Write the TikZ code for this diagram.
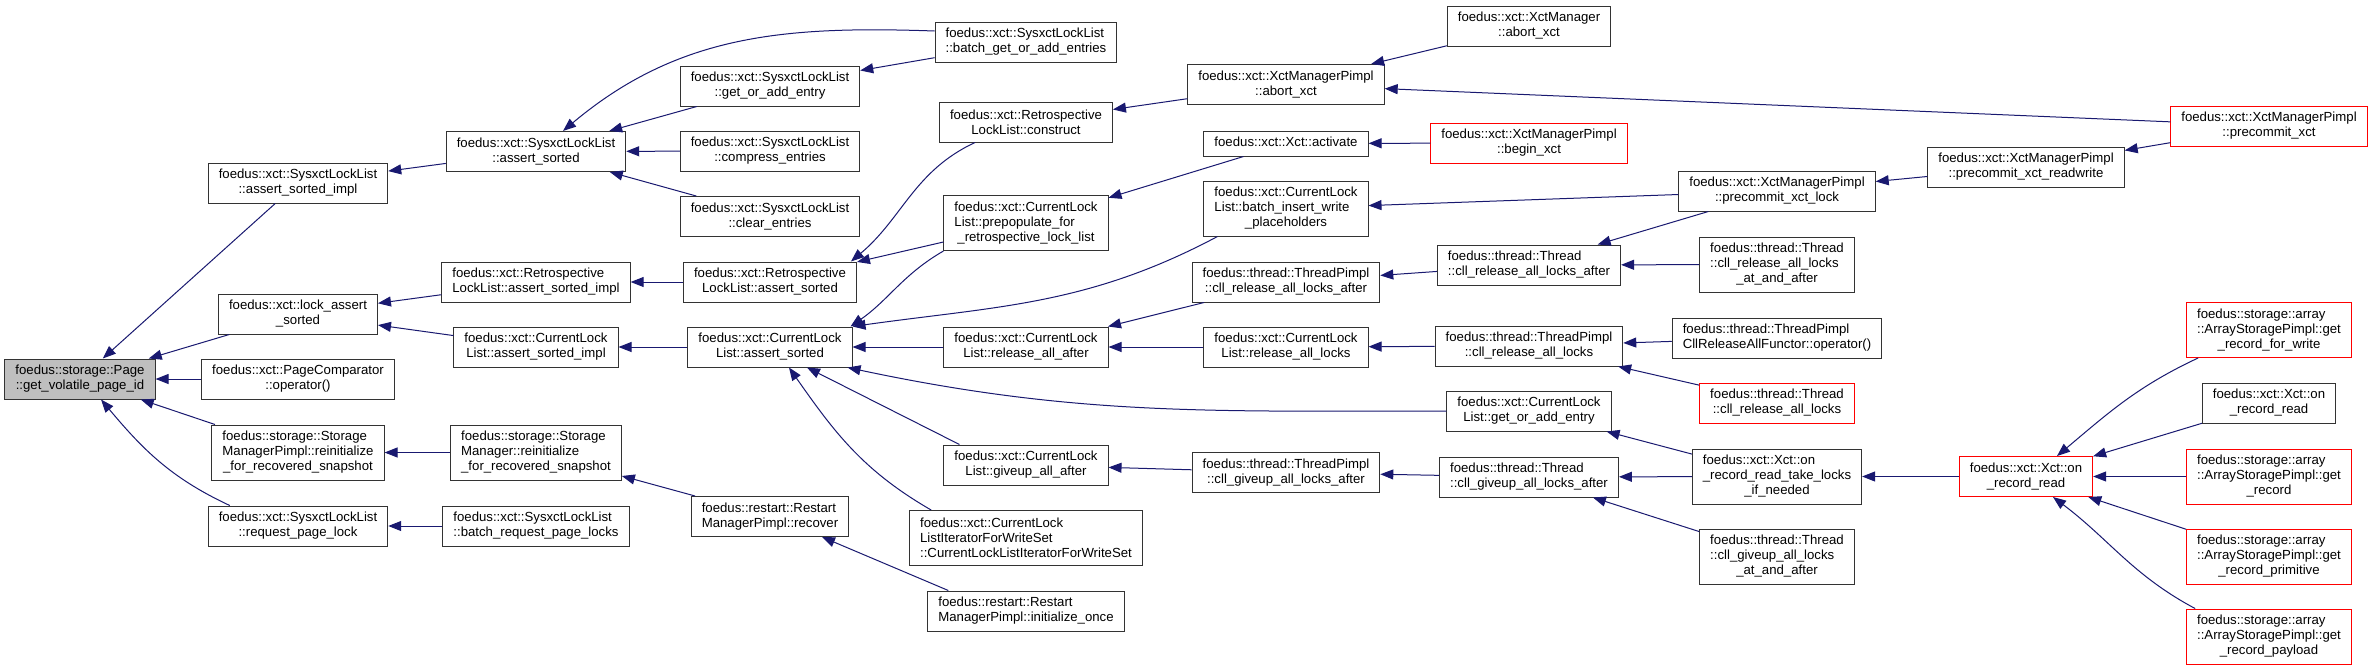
\documentclass[tikz,border=0pt]{standalone}
\usepackage{fontspec}
\setmainfont{Liberation Sans}
\usepackage{xcolor}
\usepackage{tikz}
\usetikzlibrary{arrows.meta}
\definecolor{edgeblue}{RGB}{25,25,112}
\newcommand\lastln[1]{\hfill#1\hfill\null}

\begin{document}
\begin{tikzpicture}[x=1pt, y=-1pt,
  fn/.style={rectangle, draw=black!80, line width=1pt, fill=white,
             inner xsep=10.5pt, inner ysep=0pt, minimum height=40pt,
             align=left, font={\fontsize{13.2}{15}\selectfont}},
  fnred/.style={fn, draw=red},
  fncur/.style={fn, fill=black!25},
  tall/.style={minimum height=55pt},
  flat/.style={minimum height=25pt},
  arr/.style={-{Triangle[length=13pt, width=10pt]}, line width=1pt, draw=edgeblue}
]
  \fill[white] (0,0) rectangle (2372,670);
  \useasboundingbox (0,0) rectangle (2372,670);

  % callee
  \node[fncur] (pageid) at (80,379) {foedus::storage::Page\\\lastln{::get\_volatile\_page\_id}};

  % column 1
  \node[fn]       (sllSortedImpl) at (298,183)   {foedus::xct::SysxctLockList\\\lastln{::assert\_sorted\_impl}};
  \node[fn]       (lockAssert)    at (298,314)   {foedus::xct::lock\_assert\\\lastln{\_sorted}};
  \node[fn]       (pageCmp)       at (298,379)   {foedus::xct::PageComparator\\\lastln{::operator()}};
  \node[fn, tall] (smpReinit)     at (298,452.5) {foedus::storage::Storage\\ManagerPimpl::reinitialize\\\lastln{\_for\_recovered\_snapshot}};
  \node[fn]       (sllReqLock)    at (298,526)   {foedus::xct::SysxctLockList\\\lastln{::request\_page\_lock}};

  % column 2
  \node[fn]       (sllSorted)     at (536,151.5) {foedus::xct::SysxctLockList\\\lastln{::assert\_sorted}};
  \node[fn]       (rllSortedImpl) at (536,282)   {foedus::xct::Retrospective\\\lastln{LockList::assert\_sorted\_impl}};
  \node[fn]       (cllSortedImpl) at (536,347)   {foedus::xct::CurrentLock\\\lastln{List::assert\_sorted\_impl}};
  \node[fn, tall] (smReinit)      at (536,452.5) {foedus::storage::Storage\\Manager::reinitialize\\\lastln{\_for\_recovered\_snapshot}};
  \node[fn]       (sllBatchReq)   at (536,526)   {foedus::xct::SysxctLockList\\\lastln{::batch\_request\_page\_locks}};

  % column 3
  \node[fn] (sllGetAdd)   at (770,86)    {foedus::xct::SysxctLockList\\\lastln{::get\_or\_add\_entry}};
  \node[fn] (sllCompress) at (770,151)   {foedus::xct::SysxctLockList\\\lastln{::compress\_entries}};
  \node[fn] (sllClear)    at (770,216.5) {foedus::xct::SysxctLockList\\\lastln{::clear\_entries}};
  \node[fn] (rllSorted)   at (770,282)   {foedus::xct::Retrospective\\\lastln{LockList::assert\_sorted}};
  \node[fn] (cllSorted)   at (770,347)   {foedus::xct::CurrentLock\\\lastln{List::assert\_sorted}};
  \node[fn] (rmpRecover)  at (770,516.5) {foedus::restart::Restart\\\lastln{ManagerPimpl::recover}};

  % column 4
  \node[fn]       (sllBatchGet)  at (1026,42)  {foedus::xct::SysxctLockList\\\lastln{::batch\_get\_or\_add\_entries}};
  \node[fn]       (rllConstruct) at (1026,122) {foedus::xct::Retrospective\\\lastln{LockList::construct}};
  \node[fn, tall] (cllPrepop)    at (1026,223) {foedus::xct::CurrentLock\\List::prepopulate\_for\\\lastln{\_retrospective\_lock\_list}};
  \node[fn]       (cllRelAfter)  at (1026,347) {foedus::xct::CurrentLock\\\lastln{List::release\_all\_after}};
  \node[fn]       (cllGiveAfter) at (1026,465) {foedus::xct::CurrentLock\\\lastln{List::giveup\_all\_after}};
  \node[fn, tall] (cllIter)      at (1026,538) {foedus::xct::CurrentLock\\ListIteratorForWriteSet\\\lastln{::CurrentLockListIteratorForWriteSet}};
  \node[fn]       (rmpInit)      at (1026,611) {foedus::restart::Restart\\\lastln{ManagerPimpl::initialize\_once}};

  % column 5
  \node[fn]       (xmpAbort)    at (1286,84.5)  {foedus::xct::XctManagerPimpl\\\lastln{::abort\_xct}};
  \node[fn, flat] (xctActivate) at (1286,143.5) {\strut foedus::xct::Xct::activate};
  \node[fn, tall] (cllBatchIns) at (1286,208.5) {foedus::xct::CurrentLock\\List::batch\_insert\_write\\\lastln{\_placeholders}};
  \node[fn]       (tpRelAfter)  at (1286,282)   {foedus::thread::ThreadPimpl\\\lastln{::cll\_release\_all\_locks\_after}};
  \node[fn]       (cllRelAll)   at (1286,347)   {foedus::xct::CurrentLock\\\lastln{List::release\_all\_locks}};
  \node[fn]       (tpGiveAfter) at (1286,472.5) {foedus::thread::ThreadPimpl\\\lastln{::cll\_giveup\_all\_locks\_after}};

  % column 6
  \node[fn]    (xmAbort)     at (1529,26)  {foedus::xct::XctManager\\\lastln{::abort\_xct}};
  \node[fnred] (xmpBegin)    at (1529,143) {foedus::xct::XctManagerPimpl\\\lastln{::begin\_xct}};
  \node[fn]    (thRelAfter)  at (1529,265) {foedus::thread::Thread\\\lastln{::cll\_release\_all\_locks\_after}};
  \node[fn]    (tpRelAll)    at (1529,346) {foedus::thread::ThreadPimpl\\\lastln{::cll\_release\_all\_locks}};
  \node[fn]    (cllGetAdd)   at (1529,411) {foedus::xct::CurrentLock\\\lastln{List::get\_or\_add\_entry}};
  \node[fn]    (thGiveAfter) at (1529,477) {foedus::thread::Thread\\\lastln{::cll\_giveup\_all\_locks\_after}};

  % column 7
  \node[fn]       (xmpPreLock)    at (1777,191)   {foedus::xct::XctManagerPimpl\\\lastln{::precommit\_xct\_lock}};
  \node[fn, tall] (thRelAtAfter)  at (1777,264.5) {foedus::thread::Thread\\::cll\_release\_all\_locks\\\lastln{\_at\_and\_after}};
  \node[fn]       (tpFunctor)     at (1777,338)   {foedus::thread::ThreadPimpl\\\lastln{CllReleaseAllFunctor::operator()}};
  \node[fnred]    (thRelAll)      at (1777,403)   {foedus::thread::Thread\\\lastln{::cll\_release\_all\_locks}};
  \node[fn, tall] (xctTakeLocks)  at (1777,476.5) {foedus::xct::Xct::on\\\_record\_read\_take\_locks\\\lastln{\_if\_needed}};
  \node[fn, tall] (thGiveAtAfter) at (1777,556.5) {foedus::thread::Thread\\::cll\_giveup\_all\_locks\\\lastln{\_at\_and\_after}};

  % column 8
  \node[fn]    (xmpPreRW)   at (2026,167)   {foedus::xct::XctManagerPimpl\\\lastln{::precommit\_xct\_readwrite}};
  \node[fnred] (xctOnReadR) at (2026,476.5) {foedus::xct::Xct::on\\\lastln{\_record\_read}};

  % column 9
  \node[fnred]       (xmpPrecommit) at (2269,126)   {foedus::xct::XctManagerPimpl\\\lastln{::precommit\_xct}};
  \node[fnred, tall] (aspForWrite)  at (2269,330)   {foedus::storage::array\\::ArrayStoragePimpl::get\\\lastln{\_record\_for\_write}};
  \node[fn]          (xctOnRead)    at (2269,403)   {foedus::xct::Xct::on\\\lastln{\_record\_read}};
  \node[fnred, tall] (aspGet)       at (2269,476.5) {foedus::storage::array\\::ArrayStoragePimpl::get\\\lastln{\_record}};
  \node[fnred, tall] (aspPrim)      at (2269,556.5) {foedus::storage::array\\::ArrayStoragePimpl::get\\\lastln{\_record\_primitive}};
  \node[fnred, tall] (aspPayload)   at (2269,636.5) {foedus::storage::array\\::ArrayStoragePimpl::get\\\lastln{\_record\_payload}};

  % callers -> callees
  \draw[arr] (sllSortedImpl) -- (pageid);
  \draw[arr] (lockAssert)    -- (pageid);
  \draw[arr] (pageCmp)       -- (pageid);
  \draw[arr] (smpReinit)     -- (pageid);
  \draw[arr] ([xshift=22pt]sllReqLock.north west) to[out=155, in=-50] ([xshift=21pt]pageid.south);

  \draw[arr] (sllSorted)     -- (sllSortedImpl);
  \draw[arr] (rllSortedImpl) -- (lockAssert);
  \draw[arr] (cllSortedImpl) -- (lockAssert);
  \draw[arr] (smReinit)      -- (smpReinit);
  \draw[arr] (sllBatchReq)   -- (sllReqLock);

  \draw[arr] ([yshift=11pt]sllBatchGet.west) to[out=178, in=40] ([xshift=27pt]sllSorted.north);
  \draw[arr] (sllGetAdd)   -- (sllSorted);
  \draw[arr] (sllCompress) -- (sllSorted);
  \draw[arr] (sllClear)    -- (sllSorted);
  \draw[arr] (sllBatchGet) -- (sllGetAdd);
  \draw[arr] (rllSorted)   -- (rllSortedImpl);
  \draw[arr] (cllSorted)   -- (cllSortedImpl);
  \draw[arr] (rmpRecover)  -- (smReinit);

  \draw[arr] ([xshift=-51pt]rllConstruct.south) to[out=205, in=40] ([xshift=-6pt]rllSorted.north east);
  \draw[arr] (cllPrepop) -- (rllSorted);
  \draw[arr] (cllPrepop.south west) to[out=210, in=35] ([xshift=-2pt]cllSorted.north east);
  \draw[arr] ([xshift=14pt]cllBatchIns.south west) to[out=208, in=8] (cllSorted.north east);
  \draw[arr] (cllRelAfter) -- (cllSorted);
  \draw[arr] (cllGetAdd.west) to[out=180, in=-12] ([xshift=-5pt]cllSorted.south east);
  \draw[arr] ([xshift=16pt]cllGiveAfter.north west) -- ([xshift=37pt]cllSorted.south);
  \draw[arr] ([xshift=22pt]cllIter.north west) to[out=150, in=-55] ([xshift=19pt]cllSorted.south);
  \draw[arr] ([xshift=21pt]rmpInit.north west) -- ([xshift=52pt]rmpRecover.south);

  \draw[arr] (xmpAbort)    -- (rllConstruct);
  \draw[arr] (xctActivate) -- (cllPrepop);
  \draw[arr] (tpRelAfter)  -- (cllRelAfter);
  \draw[arr] (cllRelAll)   -- (cllRelAfter);
  \draw[arr] (tpGiveAfter) -- (cllGiveAfter);

  \draw[arr] (xmAbort)      -- (xmpAbort);
  \draw[arr] (xmpPrecommit) -- (xmpAbort);
  \draw[arr] (xmpBegin)     -- (xctActivate);
  \draw[arr] (xmpPreLock)   -- (cllBatchIns);
  \draw[arr] (thRelAfter)   -- (tpRelAfter);
  \draw[arr] (tpRelAll)     -- (cllRelAll);
  \draw[arr] (thGiveAfter)  -- (tpGiveAfter);

  \draw[arr] (xmpPreLock)    -- (thRelAfter);
  \draw[arr] (thRelAtAfter)  -- (thRelAfter);
  \draw[arr] (tpFunctor)     -- (tpRelAll);
  \draw[arr] (thRelAll)      -- (tpRelAll);
  \draw[arr] (xctTakeLocks)  -- (cllGetAdd);
  \draw[arr] (xctTakeLocks)  -- (thGiveAfter);
  \draw[arr] (thGiveAtAfter) -- (thGiveAfter);

  \draw[arr] (xmpPreRW)     -- (xmpPreLock);
  \draw[arr] (xctOnReadR)   -- (xctTakeLocks);
  \draw[arr] (xmpPrecommit) -- (xmpPreRW);

  % array storage callers
  \draw[arr] ([xshift=12pt]aspForWrite.south west) to[out=205, in=40] ([xshift=31pt]xctOnReadR.north);
  \draw[arr] (xctOnRead) -- (xctOnReadR);
  \draw[arr] (aspGet)    -- (xctOnReadR);
  \draw[arr] (aspPrim)   -- (xctOnReadR);
  \draw[arr] ([xshift=9pt]aspPayload.north west) to[out=152, in=-37] ([xshift=27pt]xctOnReadR.south);
\end{tikzpicture}
\end{document}
